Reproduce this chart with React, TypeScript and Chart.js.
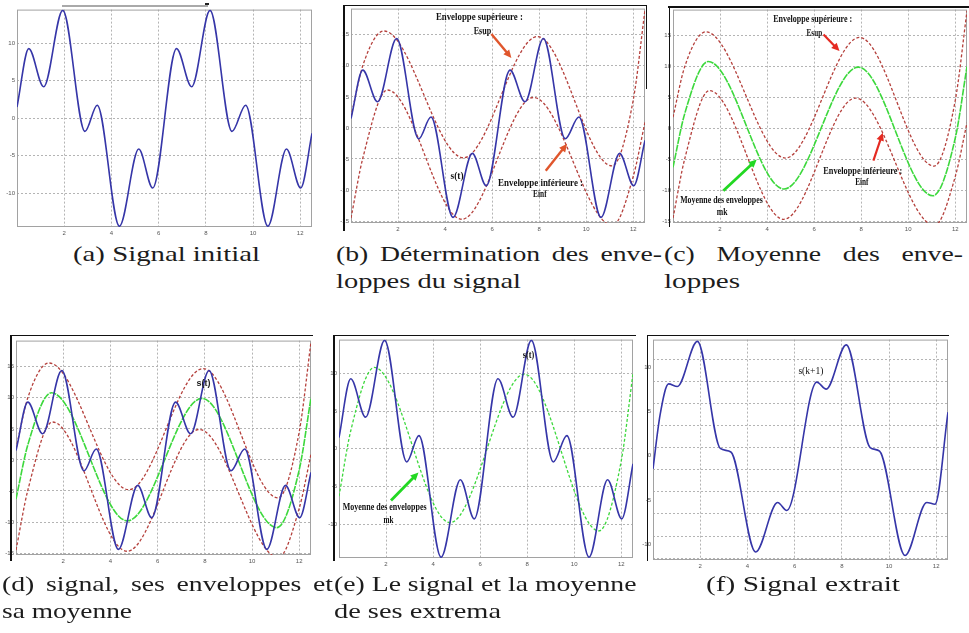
import React, { useEffect, useRef } from "react";
import { Chart, registerables } from "chart.js";

Chart.register(...registerables);

// ---------------- data ----------------
const X_TICKS = [2, 4, 6, 8, 10, 12];
const Y_TICKS_SIGNAL = [-10, -5, 0, 5, 10];
const Y_TICKS_ENVELOPES = [-15, -10, -5, 0, 5, 10, 15];
const Y_TICKS_EXTRACTED = [-12.5, -10, -7.5, -5, -2.5, 0, 2.5, 5, 7.5, 10];
const Y_LABELS_EXTRACTED = [-10, -5, 0, 5, 10];

// s(t): initial signal (extrema)
const SIGNAL_T = [0, 0.5, 1.13, 1.94, 2.88, 3.4, 4.34, 5.16, 5.75, 6.76, 7.4, 8.18, 9.11, 9.69, 10.63, 11.42, 12.02, 12.5];
const SIGNAL_V = [1.5, 9.3, 4.2, 14.4, -1.75, 1.75, -14.4, -4.1, -9.3, 9.3, 4.2, 14.4, -1.75, 1.75, -14.4, -4.1, -9.3, -2.0];

// Esup: upper envelope
const UPPER_T = [0, 0.5, 1.4, 4.78, 7.93, 11.1, 12.0, 12.5];
const UPPER_V = [1.8, 10.0, 15.6, -4.8, 14.7, -6.1, 4.5, 19.0];

// Einf: lower envelope
const LOWER_T = [0, 0.5, 1.55, 4.71, 7.76, 11.12, 12.0, 12.5];
const LOWER_V = [-14.5, -4.9, 6.1, -14.7, 4.9, -15.7, -7.8, 0.9];

// mk: mean of the envelopes
const MEAN_T = [0, 0.5, 1.5, 4.72, 7.88, 11.05, 12.0, 12.5];
const MEAN_V = [-6.3, 2.4, 10.8, -9.8, 9.9, -10.9, -1.6, 10.0];

// s(k+1): extracted signal
const EXTRACT_T = [0, 0.3, 0.66, 1.03, 1.88, 2.85, 3.3, 4.35, 5.28, 5.67, 6.94, 7.34, 8.19, 9.2, 9.6, 10.68, 11.6, 11.95, 12.5];
const EXTRACT_V = [-2.4, 3.7, 7.2, 6.9, 12.0, -0.1, -0.5, -11.8, -6.2, -7.1, 7.4, 6.6, 11.6, 0.0, -0.4, -12.2, -6.2, -6.4, 4.0];

// ---------------- styles ----------------
const BLUE = "#3636a8";
const RED = "#b5403c";
const GREEN = "#3cd83c";
const GRID = "#b4b4b4";
const TICK_COLOR = "#555";
const SERIF = "'Liberation Serif', 'Times New Roman', serif";
const SANS = "'Liberation Sans', Arial, sans-serif";

const Y_W = 16;
const X_H = 14;
const PAD_T = 3;
const PAD_R = 2;

const pts = (t: number[], v: number[]) => t.map((x, i) => ({ x, y: v[i] }));

const series = {
  signal: () => ({ data: pts(SIGNAL_T, SIGNAL_V), borderColor: BLUE, borderWidth: 1.6, borderDash: [] as number[] }),
  upper: () => ({ data: pts(UPPER_T, UPPER_V), borderColor: RED, borderWidth: 1.3, borderDash: [3, 2] }),
  lower: () => ({ data: pts(LOWER_T, LOWER_V), borderColor: RED, borderWidth: 1.3, borderDash: [3, 2] }),
  meanSolid: () => ({ data: pts(MEAN_T, MEAN_V), borderColor: GREEN, borderWidth: 1.6, borderDash: [7, 1] }),
  meanDash: () => ({ data: pts(MEAN_T, MEAN_V), borderColor: GREEN, borderWidth: 1.3, borderDash: [3, 2] }),
  extracted: () => ({ data: pts(EXTRACT_T, EXTRACT_V), borderColor: BLUE, borderWidth: 1.6, borderDash: [] as number[] }),
};

type Ann =
  | { kind: "text"; x: number; y: number; text: string; size: number; bold: boolean; family: string; width: number; color?: string }
  | { kind: "arrow"; x1: number; y1: number; x2: number; y2: number; color: string; lw: number };

const ORANGE = "#e0562c";
const ARROW_RED = "#e52a22";
const ARROW_GREEN = "#22d822";

const ANN_B: Ann[] = [
  { kind: "text", x: 5.46, y: 17.7, text: "Enveloppe supérieure :", size: 10, bold: true, family: SERIF, width: 87 },
  { kind: "text", x: 5.59, y: 15.5, text: "Esup", size: 10, bold: true, family: SERIF, width: 17.5 },
  { kind: "arrow", x1: 5.97, y1: 15.1, x2: 6.82, y2: 11.25, color: ORANGE, lw: 2.4 },
  { kind: "text", x: 4.51, y: -7.8, text: "s(t)", size: 10, bold: true, family: SERIF, width: 13 },
  { kind: "text", x: 8.06, y: -8.86, text: "Enveloppe inférieure :", size: 10, bold: true, family: SERIF, width: 85 },
  { kind: "text", x: 8.03, y: -10.7, text: "Einf", size: 10, bold: true, family: SERIF, width: 13.5 },
  { kind: "arrow", x1: 8.28, y1: -6.9, x2: 9.19, y2: -2.55, color: ORANGE, lw: 2.4 },
];

const ANN_C: Ann[] = [
  { kind: "text", x: 5.94, y: 17.55, text: "Enveloppe supérieure :", size: 10, bold: true, family: SERIF, width: 79 },
  { kind: "text", x: 6.01, y: 15.3, text: "Esup", size: 10, bold: true, family: SERIF, width: 15.5 },
  { kind: "arrow", x1: 6.4, y1: 15.16, x2: 7.08, y2: 12.5, color: ARROW_RED, lw: 2.2 },
  { kind: "text", x: 8.07, y: -6.9, text: "Enveloppe inférieure :", size: 10, bold: true, family: SERIF, width: 79 },
  { kind: "text", x: 8.03, y: -8.8, text: "Einf", size: 10, bold: true, family: SERIF, width: 13.3 },
  { kind: "arrow", x1: 8.52, y1: -5.2, x2: 8.92, y2: -0.7, color: ARROW_RED, lw: 2.2 },
  { kind: "arrow", x1: 2.14, y1: -10.1, x2: 3.56, y2: -5.05, color: ARROW_GREEN, lw: 2.8 },
  { kind: "text", x: 2.06, y: -11.7, text: "Moyenne des enveloppes", size: 10, bold: true, family: SERIF, width: 82.5 },
  { kind: "text", x: 2.09, y: -13.6, text: "mk", size: 10, bold: true, family: SERIF, width: 10.7 },
];

const ANN_D: Ann[] = [
  { kind: "text", x: 7.94, y: 12.26, text: "s(t)", size: 9, bold: true, family: SANS, width: 14, color: "#222" },
];

const ANN_E: Ann[] = [
  { kind: "text", x: 8.06, y: 12.36, text: "s(t)", size: 10, bold: true, family: SERIF, width: 11.5 },
  { kind: "arrow", x1: 2.21, y1: -6.86, x2: 3.38, y2: -3.14, color: ARROW_GREEN, lw: 2.8 },
  { kind: "text", x: 1.94, y: -7.73, text: "Moyenne des enveloppes", size: 10, bold: true, family: SERIF, width: 84 },
  { kind: "text", x: 2.1, y: -9.56, text: "mk", size: 10, bold: true, family: SERIF, width: 10 },
];

const ANN_F: Ann[] = [
  { kind: "text", x: 6.69, y: 8.67, text: "s(k+1)", size: 11, bold: false, family: SERIF, width: 25 },
];

type PanelDef = {
  left: number; top: number; right: number; bottom: number;
  yMin: number; yMax: number; yTicks: number[]; yLabels?: number[]; labelOffset?: number;
  sets: any[]; anns: Ann[];
};

const PANELS: PanelDef[] = [
  { left: 17, top: 7, right: 312, bottom: 227, yMin: -14.5, yMax: 14.5, yTicks: Y_TICKS_SIGNAL, sets: [series.signal()], anns: [] },
  { left: 351, top: 6, right: 645, bottom: 223, yMin: -15.3, yMax: 19.2, yTicks: Y_TICKS_ENVELOPES, sets: [series.signal(), series.upper(), series.lower()], anns: ANN_B },
  { left: 673, top: 7, right: 967, bottom: 223, yMin: -15.3, yMax: 19.2, yTicks: Y_TICKS_ENVELOPES, sets: [series.meanSolid(), series.upper(), series.lower()], anns: ANN_C },
  { left: 16, top: 338, right: 311, bottom: 555, yMin: -15.3, yMax: 19.2, yTicks: Y_TICKS_ENVELOPES, sets: [series.signal(), series.meanSolid(), series.upper(), series.lower()], anns: ANN_D },
  { left: 339, top: 337, right: 633, bottom: 558, yMin: -14.5, yMax: 14.5, yTicks: Y_TICKS_SIGNAL, sets: [series.signal(), series.meanDash()], anns: ANN_E },
  { left: 653, top: 337, right: 948, bottom: 560, yMin: -12.7, yMax: 12.2, yTicks: Y_TICKS_EXTRACTED, yLabels: Y_LABELS_EXTRACTED, labelOffset: 8, sets: [series.extracted()], anns: ANN_F },
];

// decorative figure borders seen in the picture
const FRAME_LINES = [
  { left: 62, top: 5, width: 146, height: 2, color: "#a9a9a9" },
  { left: 205, top: 3, width: 4, height: 2, color: "#222" },
  { left: 343, top: 4.5, width: 303, height: 1.5, color: "#111" },
  { left: 343, top: 4.5, width: 1.5, height: 226, color: "#111" },
  { left: 645.5, top: 4.5, width: 1.5, height: 84, color: "#111" },
  { left: 668, top: 6, width: 301, height: 1.5, color: "#111" },
  { left: 668.5, top: 6, width: 1.5, height: 221, color: "#111" },
  { left: 10, top: 334.5, width: 303, height: 1.5, color: "#111" },
  { left: 10, top: 334.5, width: 1.5, height: 226, color: "#111" },
  { left: 333, top: 334.5, width: 303, height: 1.5, color: "#111" },
  { left: 333, top: 334.5, width: 1.5, height: 226, color: "#111" },
  { left: 646.5, top: 334.5, width: 302, height: 1.5, color: "#111" },
  { left: 646.5, top: 334.5, width: 1.5, height: 226, color: "#111" },
];

// captions: justified lines fill `width`; others are stretched to `width`
const CAPTIONS = [
  { text: "(a) Signal initial", left: 73, baseline: 261, width: 187, justify: false },
  { text: "(b) Détermination des enve-", left: 336, baseline: 261, width: 326, justify: true },
  { text: "loppes du signal", left: 336, baseline: 288, width: 185, justify: false },
  { text: "(c) Moyenne des enve-", left: 664, baseline: 261, width: 299, justify: true },
  { text: "loppes", left: 664, baseline: 288, width: 76, justify: false },
  { text: "(d) signal, ses enveloppes et", left: 2, baseline: 591, width: 331, justify: true },
  { text: "sa moyenne", left: 2, baseline: 618, width: 130, justify: false },
  { text: "(e) Le signal et la moyenne", left: 334, baseline: 591, width: 302, justify: true },
  { text: "de ses extrema", left: 334, baseline: 618, width: 167, justify: false },
  { text: "(f) Signal extrait", left: 706, baseline: 591, width: 194, justify: false },
];
const CAPTION_SCALE = 1.26;
const CAPTION_SIZE = 22;

let measureCtx: CanvasRenderingContext2D | null = null;
function measureCaption(text: string): number {
  if (!measureCtx) measureCtx = document.createElement("canvas").getContext("2d");
  if (!measureCtx) return text.length * 10;
  measureCtx.font = `${CAPTION_SIZE}px ${SERIF}`;
  return measureCtx.measureText(text).width;
}

// ---------------- plugins ----------------
const framePlugin = {
  id: "plotFrame",
  beforeDatasetsDraw(chart: any) {
    const { ctx, chartArea: a } = chart;
    ctx.save();
    ctx.strokeStyle = "#a2a2a2";
    ctx.lineWidth = 1;
    ctx.strokeRect(a.left + 0.5, a.top + 0.5, a.right - a.left - 1, a.bottom - a.top - 1);
    ctx.restore();
  },
};

const annPlugin = (anns: Ann[]) => ({
  id: "annots",
  afterDatasetsDraw(chart: any) {
    const ctx = chart.ctx;
    const xs = chart.scales.x;
    const ys = chart.scales.y;
    ctx.save();
    for (const a of anns) {
      if (a.kind === "arrow") {
        const x1 = xs.getPixelForValue(a.x1), y1 = ys.getPixelForValue(a.y1);
        const x2 = xs.getPixelForValue(a.x2), y2 = ys.getPixelForValue(a.y2);
        const ang = Math.atan2(y2 - y1, x2 - x1);
        const head = 8, half = 3.8;
        const c = Math.cos(ang), s = Math.sin(ang);
        ctx.strokeStyle = a.color;
        ctx.fillStyle = a.color;
        ctx.lineWidth = a.lw;
        ctx.beginPath();
        ctx.moveTo(x1, y1);
        ctx.lineTo(x2 - head * 0.8 * c, y2 - head * 0.8 * s);
        ctx.stroke();
        ctx.beginPath();
        ctx.moveTo(x2, y2);
        ctx.lineTo(x2 - head * c + half * s, y2 - head * s - half * c);
        ctx.lineTo(x2 - head * c - half * s, y2 - head * s + half * c);
        ctx.closePath();
        ctx.fill();
      } else {
        const px = xs.getPixelForValue(a.x), py = ys.getPixelForValue(a.y);
        ctx.font = `${a.bold ? "bold " : ""}${a.size}px ${a.family}`;
        const w = ctx.measureText(a.text).width || 1;
        const sx = a.width / w;
        ctx.save();
        ctx.translate(px, py);
        ctx.scale(sx, 1);
        ctx.textAlign = "center";
        ctx.textBaseline = "middle";
        ctx.fillStyle = a.color || "#111";
        ctx.fillText(a.text, 0, 0);
        ctx.restore();
      }
    }
    ctx.restore();
  },
});

function Panel({ p }: { p: PanelDef }) {
  const ref = useRef<HTMLCanvasElement>(null);
  const w = p.right - p.left + Y_W + PAD_R;
  const h = p.bottom - p.top + PAD_T + X_H;
  useEffect(() => {
    const canvas = ref.current;
    if (!canvas) return;
    const tickFont = { size: 6, family: SANS };
    const chart = new Chart(canvas, {
      type: "line",
      data: {
        datasets: p.sets.map((s) => ({
          ...s,
          fill: false,
          pointRadius: 0,
          cubicInterpolationMode: "monotone",
        })),
      },
      options: {
        responsive: false,
        maintainAspectRatio: false,
        animation: false,
        layout: { padding: { left: 0, top: PAD_T, right: PAD_R, bottom: 0 } },
        plugins: { legend: { display: false }, tooltip: { enabled: false } },
        scales: {
          x: {
            type: "linear",
            min: 0,
            max: 12.5,
            afterBuildTicks: (s: any) => {
              s.ticks = X_TICKS.map((v) => ({ value: v }));
            },
            afterFit: (s: any) => {
              s.height = X_H;
            },
            grid: { color: GRID, lineWidth: 1, drawTicks: false },
            border: { display: false, dash: [2, 2] },
            ticks: { font: tickFont, color: TICK_COLOR, padding: 3, maxRotation: 0, autoSkip: false },
          },
          y: {
            type: "linear",
            min: p.yMin,
            max: p.yMax,
            afterBuildTicks: (s: any) => {
              s.ticks = p.yTicks.map((v) => ({ value: v }));
            },
            afterFit: (s: any) => {
              s.width = Y_W;
            },
            grid: { color: GRID, lineWidth: 1, drawTicks: false },
            border: { display: false, dash: [2, 2] },
            ticks: {
              font: tickFont,
              color: TICK_COLOR,
              padding: 2,
              autoSkip: false,
              labelOffset: p.labelOffset || 0,
              callback: (v: any) => {
                const n = Number(v);
                if (p.yLabels && !p.yLabels.includes(n)) return "";
                return String(n);
              },
            },
          },
        },
      } as any,
      plugins: [framePlugin, annPlugin(p.anns)],
    });
    return () => chart.destroy();
  }, []);
  return (
    <canvas
      ref={ref}
      width={w}
      height={h}
      style={{ position: "absolute", left: p.left - Y_W, top: p.top - PAD_T, width: w, height: h }}
    />
  );
}

function Caption({ c }: { c: (typeof CAPTIONS)[number] }) {
  const scale = c.justify ? CAPTION_SCALE : c.width / measureCaption(c.text);
  const style: any = {
    position: "absolute",
    left: c.left,
    top: c.baseline - 18.4,
    fontFamily: SERIF,
    fontSize: CAPTION_SIZE,
    lineHeight: "22px",
    color: "#1c1c1c",
    whiteSpace: "nowrap",
    transform: `scaleX(${scale})`,
    transformOrigin: "left top",
  };
  if (c.justify) {
    style.width = c.width / CAPTION_SCALE;
    style.textAlign = "justify";
    style.textAlignLast = "justify";
  }
  return <div style={style}>{c.text}</div>;
}

export default function App() {
  return (
    <div
      style={{
        position: "absolute",
        left: 0,
        top: 0,
        width: 969,
        height: 633,
        overflow: "hidden",
        background: "#fff",
      }}
    >
      {PANELS.map((p, i) => (
        <Panel key={i} p={p} />
      ))}
      {FRAME_LINES.map((f, i) => (
        <div
          key={"f" + i}
          style={{ position: "absolute", left: f.left, top: f.top, width: f.width, height: f.height, background: f.color }}
        />
      ))}
      {CAPTIONS.map((c, i) => (
        <Caption key={"c" + i} c={c} />
      ))}
    </div>
  );
}
